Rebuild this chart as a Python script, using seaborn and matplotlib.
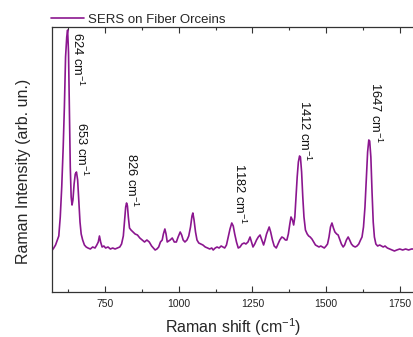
import numpy as np
import pandas as pd
import matplotlib
matplotlib.use("Agg")
import matplotlib.pyplot as plt
import seaborn as sns

# Raman shift (cm^-1) and intensity (arb. un.)
shift = [571, 576, 582, 588, 593, 598, 603, 608, 612, 616, 620, 623, 626, 629, 632, 635, 638, 641, 645, 649,
         653, 657, 661, 665, 669, 674, 680, 686, 692, 700, 708, 716, 722, 727, 731, 735, 740, 746, 752, 760,
         768, 776, 784, 792, 800, 806, 812, 816, 820, 823, 826, 829, 833, 838, 845, 852, 860, 868, 876, 884,
         892, 900, 908, 914, 920, 926, 932, 938, 944, 948, 953, 957, 961, 966, 971, 978, 985, 992, 998, 1005,
         1010, 1015, 1021, 1028, 1034, 1040, 1045, 1048, 1052, 1057, 1062, 1068, 1075, 1082, 1090, 1098, 1105, 1112, 1117, 1124,
         1130, 1137, 1144, 1150, 1156, 1162, 1168, 1174, 1180, 1185, 1190, 1196, 1202, 1208, 1215, 1222, 1228, 1235, 1242, 1247,
         1252, 1258, 1264, 1270, 1276, 1282, 1288, 1293, 1298, 1303, 1307, 1312, 1318, 1324, 1331, 1337, 1343, 1350, 1356, 1362,
         1367, 1372, 1377, 1381, 1386, 1390, 1394, 1398, 1402, 1406, 1410, 1413, 1417, 1421, 1425, 1430, 1436, 1441, 1446, 1452,
         1458, 1464, 1470, 1476, 1482, 1488, 1494, 1500, 1505, 1510, 1515, 1520, 1525, 1530, 1536, 1541, 1546, 1552, 1558, 1563,
         1569, 1575, 1580, 1586, 1592, 1599, 1605, 1611, 1617, 1622, 1627, 1632, 1637, 1641, 1645, 1648, 1652, 1656, 1660, 1664,
         1669, 1675, 1682, 1688, 1694, 1700, 1708, 1716, 1724, 1732, 1740, 1750, 1760, 1770, 1780, 1790, 1795]
intensity = [42, 44, 47, 52, 56, 75, 105, 145, 185, 235, 255, 262, 240, 180, 125, 95, 87, 92, 108, 118,
             120, 112, 90, 70, 58, 52, 47, 45, 44, 43, 45, 44, 47, 50, 56, 50, 45, 46, 44, 45,
             43, 44, 43, 44, 45, 48, 56, 70, 85, 89, 86, 75, 64, 62, 60, 58, 57, 54, 52, 50,
             52, 50, 46, 44, 42, 43, 45, 50, 52, 58, 63, 58, 50, 51, 52, 54, 50, 50, 55, 60,
             57, 52, 50, 52, 56, 65, 76, 79, 72, 60, 52, 49, 48, 47, 45, 44, 43, 44, 42, 44,
             45, 44, 46, 45, 44, 47, 55, 63, 69, 66, 58, 50, 44, 45, 48, 49, 48, 50, 55, 50,
             45, 48, 52, 55, 57, 52, 47, 52, 58, 62, 65, 60, 52, 46, 44, 48, 52, 55, 54, 52,
             52, 58, 68, 75, 72, 67, 75, 95, 115, 130, 136, 135, 120, 95, 75, 62, 58, 56, 55, 53,
             50, 47, 46, 45, 46, 45, 44, 46, 48, 55, 65, 69, 64, 60, 58, 57, 53, 48, 45, 47,
             52, 55, 52, 48, 46, 45, 46, 48, 52, 55, 65, 85, 115, 140, 152, 151, 135, 100, 70, 55,
             48, 46, 47, 46, 45, 46, 44, 43, 42, 41, 42, 43, 42, 43, 42, 43, 43]

peak_labels = ["624", "653", "826", "1182", "1412", "1647"]
label_x = [658, 672, 840, 1205, 1426, 1667]
label_top = [260, 170, 139, 129, 192, 210]

xticks = [750, 1000, 1250, 1500, 1750]
minor_ticks = [625, 875, 1125, 1375, 1625]

series_name = "SERS on Fiber Orceins"
color = "#8B168F"

sns.set_style("ticks")
plt.rcParams["font.family"] = ["Liberation Sans", "DejaVu Sans"]
plt.rcParams["mathtext.fontset"] = "custom"
plt.rcParams["mathtext.rm"] = "Liberation Sans"
plt.rcParams["mathtext.it"] = "Liberation Sans:italic"
plt.rcParams["mathtext.bf"] = "Liberation Sans:bold"

df = pd.DataFrame({"shift": shift, "intensity": intensity, "series": series_name})

fig = plt.figure(figsize=(4.13, 3.37), dpi=100)
ax = fig.add_axes([52.3 / 413, 45 / 337, 1 - 52.3 / 413, 265 / 337])

sns.lineplot(data=df, x="shift", y="intensity", hue="series", palette=[color],
             linewidth=1.2, ax=ax, sort=False)

ax.set_xlim(571, 1795)
ax.set_ylim(0, 265)
ax.set_xticks(xticks)
ax.set_xticks(minor_ticks, minor=True)
ax.set_yticks([])
ax.tick_params(axis="x", which="major", direction="in", length=4.5, width=0.8,
               top=True, labelsize=7.5, pad=5, colors="#333333", labelcolor="#222222")
ax.tick_params(axis="x", which="minor", direction="in", length=2.5, width=0.8, top=True,
               colors="#333333")
for s in ["left", "top", "bottom"]:
    ax.spines[s].set_linewidth(0.9)
    ax.spines[s].set_color("#333333")
ax.spines["right"].set_visible(False)

ax.set_xlabel("Raman shift (cm$^{\\mathrm{-1}}$)", fontsize=11.5, labelpad=5)
ax.set_ylabel("Raman Intensity (arb. un.)", fontsize=11.5)
ax.yaxis.set_label_coords(-0.06, 0.455)

for lab, lx, ly in zip(peak_labels, label_x, label_top):
    ax.text(lx, ly, lab + " cm$^{\\mathrm{-1}}$", rotation=270, ha="center", va="top",
            fontsize=9.3, color="#111111")

leg = ax.legend(loc="lower left", bbox_to_anchor=(-0.006, 1.0), frameon=False,
                fontsize=9.5, handlelength=2.5, handletextpad=0.25, borderaxespad=0.0,
                borderpad=0.1)

fig.savefig("out.png", dpi=100)
